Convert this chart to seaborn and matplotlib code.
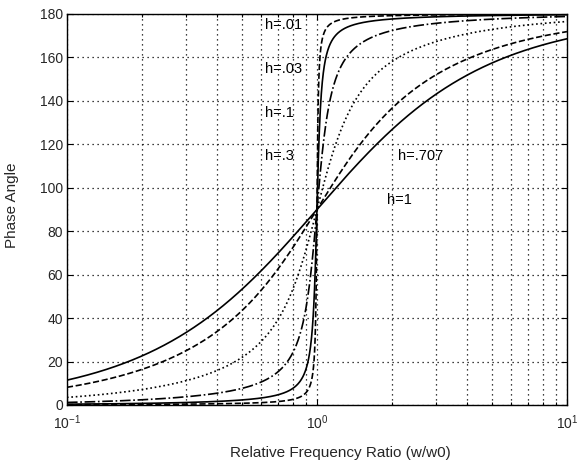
import numpy as np
import pandas as pd
import matplotlib
matplotlib.use("Agg")
import matplotlib.pyplot as plt
import seaborn as sns
from matplotlib.ticker import LogLocator, NullFormatter, FixedLocator

# damping ratios and the line style used for each curve
damping = [1.0, 0.707, 0.3, 0.1, 0.03, 0.01]
styles = ["-", "--", ":", "-.", "-", "--"]

# curve labels: text, x position (frequency ratio), y position (degrees)
label_text = ["h=.01", "h=.03", "h=.1", "h=.3", "h=.707", "h=1"]
label_x = [0.62, 0.62, 0.62, 0.62, 2.11, 1.91]
label_y = [175.0, 154.5, 134.5, 114.5, 114.5, 94.5]

y_ticks = [0, 20, 40, 60, 80, 100, 120, 140, 160, 180]

sns.set_style("ticks")
plt.rcParams["font.family"] = ["Liberation Sans", "DejaVu Sans"]
plt.rcParams["mathtext.fontset"] = "custom"
plt.rcParams["mathtext.rm"] = "Liberation Sans"

fig = plt.figure(figsize=(5.77, 4.66), dpi=100)
ax = fig.add_axes([0.116, 0.131, 0.8666, 0.839])

# frequency ratio sweep and phase lag of a damped oscillator
r = np.logspace(-1, 1, 2000)
frames = []
for h in damping:
    phase = np.degrees(np.arctan2(2 * h * r, 1 - r ** 2))
    frames.append(pd.DataFrame({"ratio": r, "phase": phase, "h": h}))
data = pd.concat(frames, ignore_index=True)

for h, ls in zip(damping, styles):
    sub = data[data["h"] == h]
    sns.lineplot(data=sub, x="ratio", y="phase", ax=ax, color="black",
                 linestyle=ls, linewidth=1.2, legend=False, errorbar=None)

ax.set_xscale("log")
ax.set_xlim(0.1, 10)
ax.set_ylim(0, 180)
ax.yaxis.set_major_locator(FixedLocator(y_ticks))
ax.xaxis.set_minor_locator(LogLocator(base=10, subs=np.arange(2, 10), numticks=20))
ax.xaxis.set_minor_formatter(NullFormatter())
ax.set_xticks([0.1, 1, 10])
ax.set_xticklabels([r"$10^{-1}$", r"$10^{0}$", r"$10^{1}$"])

grid_ls = (0, (1, 3))
ax.grid(True, which="major", axis="both", color="black", linestyle=grid_ls, linewidth=0.9)
ax.grid(True, which="minor", axis="x", color="black", linestyle=grid_ls, linewidth=0.9)

ax.tick_params(which="both", direction="in", top=True, right=True, color="black",
               length=4, width=0.8)
ax.tick_params(axis="y", labelsize=10, pad=3)
ax.tick_params(axis="x", labelsize=10, pad=6)
ax.tick_params(which="minor", length=2.5)
for s in ax.spines.values():
    s.set_color("black")
    s.set_linewidth(1.0)

for t, x, y in zip(label_text, label_x, label_y):
    ax.text(x, y, t, fontsize=10.5, ha="left", va="center", color="black")

ax.set_xlabel("Relative Frequency Ratio (w/w0)", fontsize=11)
ax.xaxis.set_label_coords(0.546, -0.105)
ax.set_ylabel("Phase Angle", fontsize=11)
ax.yaxis.set_label_coords(-0.096, 0.51)

fig.savefig("out.png", dpi=100, facecolor="white")
